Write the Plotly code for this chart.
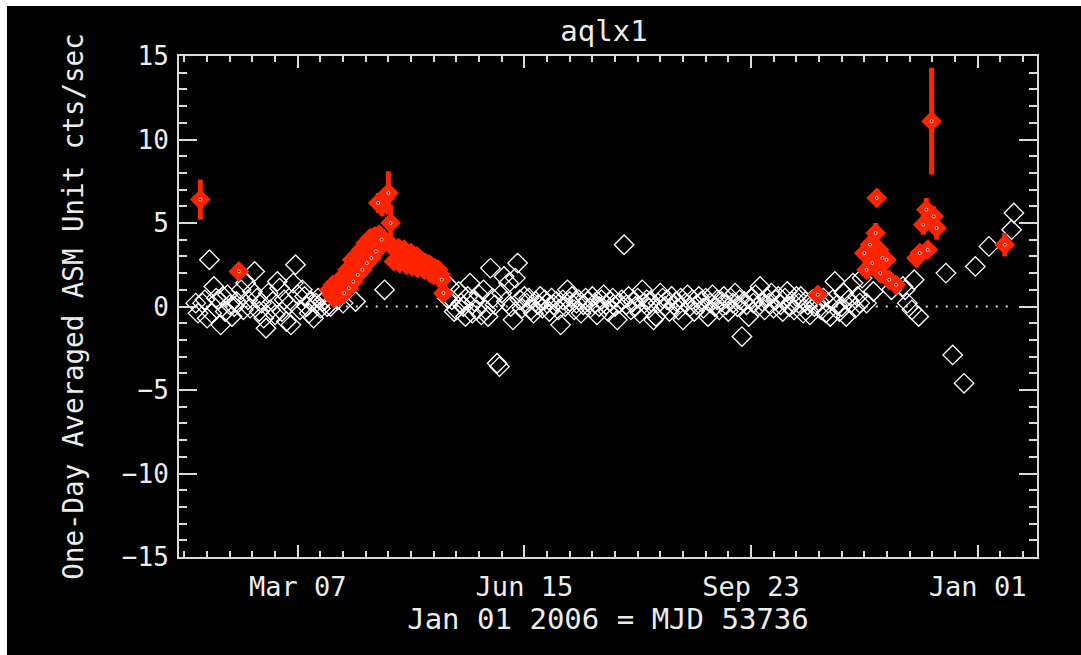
import plotly.graph_objects as go

# ---------------- data (days since Jan 01 2006 = MJD 53736) ----------------
white_day = [
    20, 21, 23, 24, 25, 26, 27, 28, 29, 30, 31, 32, 33, 34, 35, 36, 37, 38, 40, 41,
    42, 43, 44, 45, 46, 47, 48, 49, 50, 51, 52, 53, 54, 55, 56, 57, 58, 59, 60, 61,
    62, 63, 64, 65, 66, 67, 68, 69, 70, 71, 72, 73, 74, 75, 76, 77, 78,
    79.5, 82.5, 85, 90.5, 103.3,
    131, 132, 133, 134, 135, 136, 137, 138, 139, 140, 141, 142, 143, 144, 145, 146,
    147, 148, 149, 150, 151, 152, 153, 154, 155, 156, 157, 158, 159, 160, 161, 162,
    163, 164, 165, 166, 167, 168, 169, 170, 171, 172, 173, 174, 175, 176, 177, 178,
    179, 180, 181, 182, 183, 184, 185, 186, 187, 188, 189, 190, 191, 192, 193, 194,
    195, 196, 197, 198, 199, 200, 201, 202, 203, 204, 205, 206, 207, 208, 209, 210,
    211, 212, 213, 214, 215, 216, 217, 218, 219, 220, 221, 222, 223, 224, 225, 226,
    227, 228, 229, 230, 231, 232, 233, 234, 235, 236, 237, 238, 239, 240, 241, 242,
    243, 244, 245, 246, 247, 248, 249, 250, 251, 252, 253, 254, 255, 256, 257, 258,
    259, 260, 261, 262, 263, 264, 265, 266, 267, 268, 269, 270, 271, 272, 273, 274,
    275, 276, 277, 278, 279, 280, 281, 282, 283, 284, 285, 286, 287, 288, 289, 290,
    291, 292, 293, 295, 296, 297, 298, 299, 300, 301, 302, 303, 304, 305, 306, 307,
    308, 309, 310, 311, 312, 313, 314, 316, 319, 327,
    332, 333, 334, 336, 337, 339, 351, 354, 359, 364, 370, 380, 381,
]
white_val = [
    0.2, -0.4, 0.2, 0.4, -0.7, 2.8, -0.4, 1.2, 0.5, 0.4, -1.1, 0.6, -0.3, 0.7, 0.1, -0.6, 0.0, 0.3, 1.0, -0.2,
    1.4, 0.4, -0.1, 0.9, 2.1, 0.5, -0.3, 0.2, -0.7, -1.3, 0.8, -0.2, 0.3, -0.5, 1.5, 1.1, -0.3, 0.4, -0.9, 0.1,
    -1.1, 1.4, 2.5, 0.7, -0.2, 1.0, 0.6, 0.0, -0.4, 0.3, -0.7, 0.2, 0.5, -0.1, 0.3, 0.4, 0.0,
    0.0, 0.4, 0.2, 0.3, 1.0,
    0.5, 1.2, 0.4, -0.3, -0.2, 0.9, 0.2, 0.0, -0.6, 0.6, 1.4, -0.4, 0.3, -0.2, 0.7, -0.5,
    1.0, -0.2, -0.6, 2.3, 0.5, 0.1, -3.4, -3.6, 0.8, 1.8, 0.3, 1.4, 0.0, -0.8, 1.7, 2.6,
    0.4, -0.1, 0.6, 0.2, 0.5, -0.2, -0.4, 0.3, 0.1, 0.6, -0.1, 0.4, 0.2, -0.3, 0.5, 0.1,
    0.3, -0.2, -1.1, 0.4, 0.0, 1.0, 0.3, 0.6, -0.2, 0.2, 0.4, -0.4, 0.1, 0.5, 0.3, -0.1,
    0.6, 0.2, -0.5, 0.0, 0.4, 0.7, 0.1, -0.3, 0.3, 0.5, 0.0, -0.8, 0.2, 0.4, 3.7, 0.1,
    0.6, -0.2, 0.3, 0.0, 0.5, -0.4, 1.0, 0.2, 0.4, -0.1, 0.3, -0.8, -0.6, 0.2, 0.8, 0.5,
    0.0, 0.4, -0.3, 0.6, 0.1, 0.3, -0.2, 0.5, -0.8, 0.2, 0.7, 0.0, 0.4, -0.3, 0.1, 0.6,
    0.3, -0.1, 0.5, -0.6, 0.2, 0.7, 0.0, 0.4, -0.2, 0.3, 0.6, 0.1, -0.3, 0.5, 0.2, 0.8,
    0.0, 0.4, -1.8, 0.3, 0.1, -0.6, 0.5, 0.2, 0.7, 0.0, 1.2, 0.3, -0.2, 0.5, 0.2, 0.8,
    -0.1, 0.4, 0.6, 0.1, -0.3, 0.5, 0.9, 0.0, 0.3, -0.2, 0.6, 0.2, 0.6, -0.4, 0.3, 0.1,
    -0.5, 0.4, 0.0, 0.3, -0.2, 0.5, -0.4, 0.2, -0.6, 0.4, 1.5, 0.1, -0.3, 0.0, 0.8, -0.6,
    0.4, 0.2, 1.4, -0.1, 0.6, 0.2, 1.7, 0.2, 0.9, 1.0,
    1.2, 1.0, 0.2, -0.2, 1.6, -0.6, 2.0, -2.9, -4.6, 2.4, 3.6, 4.6, 5.6,
]

red_day = [
    22, 39,
    79, 80, 80.5, 81, 82, 83, 83.5, 84, 85, 85.5, 86, 87, 87.5, 88, 89, 89.5, 90, 91,
    91.5, 92, 93, 93.5, 94, 95, 95.5, 96, 97, 97.5, 98, 99, 99.5, 100, 101, 101.5, 102,
    100.5, 102.2, 103.5, 105, 106,
    107, 107.5, 108, 109, 109.5, 110, 111, 111.5, 112, 113, 113.5, 114, 115, 115.5, 116, 117,
    117.5, 118, 119, 119.5, 120, 121, 121.5, 122, 123, 123.5, 124, 125, 125.5, 126, 127, 127.5,
    128, 128.5, 129.3,
    294.5,
    315, 316, 317.5, 318.5, 320, 320.5, 321.5, 322, 323, 324.8, 326, 329,
    338, 339.5, 341, 342.4, 343, 344.7, 345.6, 346.9,
    377,
]
red_val = [
    6.4, 2.1,
    1.0, 0.7, 1.3, 0.5, 0.9, 1.4, 0.6, 1.0, 1.8, 0.8, 1.4, 2.2, 1.1, 1.7, 2.8, 1.5, 2.3, 3.0,
    1.9, 2.6, 3.4, 2.2, 2.9, 3.8, 2.6, 3.3, 4.1, 2.9, 3.6, 4.2, 3.3, 3.9, 4.3, 3.6, 4.0,
    6.2, 6.0, 6.5, 6.8, 5.0,
    3.6, 2.7, 3.4, 2.9, 3.5, 2.6, 3.2, 2.8, 3.4, 2.5, 3.1, 2.7, 3.2, 2.4, 2.9, 2.6,
    3.0, 2.3, 2.8, 2.4, 2.7, 2.2, 2.6, 2.3, 2.5, 2.0, 2.4, 1.9, 2.3, 2.0, 2.2, 1.7,
    1.9, 1.6, 0.8,
    0.7,
    3.2, 2.2, 3.7, 2.6, 4.4, 6.5, 3.4, 2.0, 2.9, 2.8, 1.6, 1.3,
    2.9, 3.2, 4.9, 5.8, 3.4, 11.1, 5.4, 4.7,
    3.7,
]
red_err = [
    1.2, 0.3,
    0.4, 0.4, 0.4, 0.4, 0.4, 0.4, 0.4, 0.4, 0.4, 0.4, 0.4, 0.4, 0.4, 0.4, 0.5, 0.5, 0.5, 0.5,
    0.5, 0.5, 0.5, 0.5, 0.5, 0.5, 0.5, 0.5, 0.5, 0.5, 0.5, 0.5, 0.5, 0.5, 0.5, 0.5, 0.5,
    0.6, 0.6, 0.6, 1.3, 1.1,
    0.5, 0.5, 0.5, 0.5, 0.5, 0.5, 0.5, 0.5, 0.5, 0.5, 0.5, 0.5, 0.5, 0.5, 0.5, 0.5,
    0.5, 0.5, 0.5, 0.5, 0.5, 0.5, 0.5, 0.5, 0.5, 0.5, 0.5, 0.5, 0.5, 0.5, 0.5, 0.5,
    0.5, 0.4, 0.4,
    0.3,
    0.5, 0.5, 0.5, 0.5, 0.6, 0.5, 0.5, 0.5, 0.5, 0.5, 0.4, 0.4,
    0.5, 0.5, 0.6, 0.7, 0.5, 3.2, 0.6, 0.7,
    0.7,
]

x_tick_vals = [65, 165, 265, 365]
x_tick_text = ["Mar 07", "Jun 15", "Sep 23", "Jan 01"]
x_range = [12.6, 391.2]
y_range = [-15, 15]

title_text = "aqlx1"
x_title = "Jan 01 2006 = MJD 53736"
y_title = "One-Day Averaged ASM Unit cts/sec"

# ---------------- styling ----------------
FONT = "DejaVu Sans Mono"
AX = "#d9d9d9"
TXT = "#ececec"
RED = "#ff2400"

# page: white strip 7px at the left and 6px at the top, figure fills the rest
W, H = 1074, 649

# the dark centre of a red symbol only stays visible when no later symbol covers it
hole_size = []
for i in range(len(red_day)):
    covered = any(abs(red_day[j] - red_day[i]) < 1.6 and abs(red_val[j] - red_val[i]) < 0.55
                  for j in range(i + 1, len(red_day)))
    hole_size.append(0 if covered else 3)

fig = go.Figure()

fig.add_trace(go.Scatter(
    x=white_day, y=white_val, mode="markers",
    marker=dict(symbol="diamond-open", size=15, color="white",
                line=dict(color="white", width=1.3)),
    hoverinfo="x+y", showlegend=False,
))

fig.add_trace(go.Scatter(
    x=red_day, y=red_val, mode="markers",
    marker=dict(symbol="diamond", size=16, color=RED, line=dict(width=0)),
    error_y=dict(type="data", array=red_err, visible=True, color=RED,
                 thickness=5, width=0),
    hoverinfo="x+y", showlegend=False,
))

fig.add_trace(go.Scatter(
    x=red_day, y=red_val, mode="markers",
    marker=dict(symbol="circle", size=hole_size, color="black"),
    hoverinfo="skip", showlegend=False,
))

all_days = white_day + red_day
fig.add_shape(type="line", xref="x", yref="y",
              x0=min(all_days), x1=max(all_days), y0=0, y1=0,
              line=dict(color=AX, width=2, dash="2px,8px"), layer="below")

fig.update_layout(
    width=W, height=H,
    margin=dict(l=172, r=44, t=50, b=98, pad=0),
    paper_bgcolor="black", plot_bgcolor="black",
    font=dict(family=FONT, color=TXT),
    title=dict(text=title_text, x=597 / W, xanchor="center",
               y=1 - 25 / H, yanchor="middle", yref="container",
               font=dict(family=FONT, size=29, color=TXT)),
    showlegend=False,
)

fig.update_xaxes(
    range=x_range, showgrid=False, zeroline=False,
    showline=True, linecolor=AX, linewidth=2, mirror="ticks",
    ticks="inside", ticklen=12, tickwidth=2, tickcolor=AX,
    tickmode="array", tickvals=x_tick_vals, ticktext=x_tick_text,
    tickfont=dict(family=FONT, size=27, color=TXT),
    ticklabelstandoff=5,
    minor=dict(ticks="inside", ticklen=6, tickwidth=2, tickcolor=AX,
               tickmode="linear", tick0=5, dtick=10, showgrid=False),
    title=dict(text=x_title, font=dict(family=FONT, size=29, color=TXT), standoff=3),
    automargin=False,
)
fig.update_yaxes(
    range=y_range, showgrid=False, zeroline=False,
    showline=True, linecolor=AX, linewidth=2, mirror="ticks",
    ticks="inside", ticklen=18, tickwidth=2, tickcolor=AX,
    tickmode="linear", tick0=-15, dtick=5,
    tickfont=dict(family=FONT, size=26, color=TXT),
    ticklabelstandoff=3,
    minor=dict(ticks="inside", ticklen=8, tickwidth=2, tickcolor=AX,
               tickmode="linear", tick0=-15, dtick=1, showgrid=False),
    title=dict(text=y_title, font=dict(family=FONT, size=27.5, color=TXT), standoff=30),
    automargin=False,
)

fig.write_html(
    "out.html",
    post_script="document.body.style.margin='6px 0 0 7px';"
                "document.body.style.overflow='hidden';",
)
